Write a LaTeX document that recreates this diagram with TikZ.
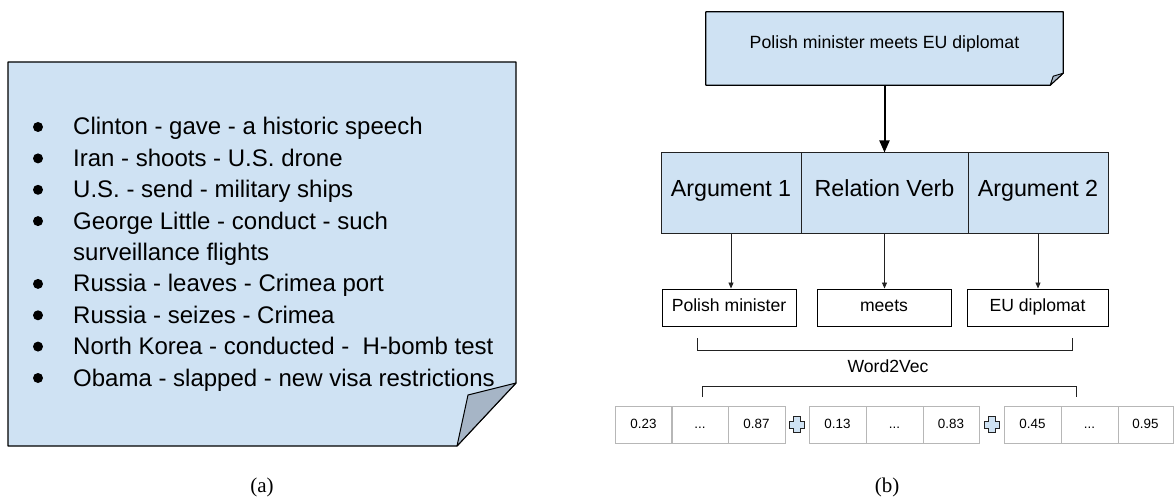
\documentclass[tikz,border=0pt]{standalone}
\usepackage{fontspec}
\setmainfont{Liberation Sans}
\newfontfamily\capfont{Liberation Serif}
\usetikzlibrary{arrows.meta}
\definecolor{paper}{HTML}{CFE2F3}
\definecolor{foldc}{HTML}{A6B5C6}
\definecolor{cellline}{HTML}{B7B7B7}
\definecolor{ink}{HTML}{222222}
\tikzset{
  item/.style={anchor=base west, inner sep=0pt, font=\fontsize{24}{28}\selectfont},
  dot/.style={circle, fill=black, inner sep=0pt, minimum size=10pt},
  argcell/.style={draw=ink, line width=1pt, fill=paper, minimum width=#1, minimum height=80pt,
    inner sep=0pt, text height=0.716em, text depth=0pt, font=\fontsize{23.3}{28}\selectfont},
  wordbox/.style={draw=black, line width=1pt, minimum width=#1, minimum height=37pt,
    inner sep=0pt, text height=0.716em, text depth=0pt, font=\fontsize{17.6}{21}\selectfont},
  vcell/.style={draw=cellline, line width=1pt, minimum width=#1, minimum height=37pt,
    inner sep=0pt, text height=0.716em, text depth=0pt, font=\fontsize{13.4}{16}\selectfont},
  thinarrow/.style={draw=ink, line width=0.9pt, -{Triangle[length=6pt,width=5pt]}},
  bracket/.style={draw=ink, line width=1pt},
  plus/.style={draw=ink, line width=1pt, fill=paper, line join=miter},
  caption/.style={anchor=base, inner sep=0pt, font=\capfont\fontsize{21}{25}\selectfont},
}
\begin{document}
\begin{tikzpicture}[x=1pt,y=-1pt]
\useasboundingbox (0,0) rectangle (1175,497);

% ---------------- (a) note with the list of triples ----------------
\draw[fill=paper, line width=1.2pt, line join=round]
  (8,62) -- (516,62) -- (516,383) -- (457,446) -- (8,446) -- cycle;
\draw[fill=foldc, line width=1pt, line join=round]
  (516,383) -- (468,395) -- (457,446) -- cycle;

\node[dot] (d1) at (38,127) {};
\node[item] (l1) at (73,135) {Clinton - gave - a historic speech};
\node[dot] (d2) at (38,158.4) {};
\node[item] (l2) at (73,166.4) {Iran - shoots - U.S. drone};
\node[dot] (d3) at (38,189.8) {};
\node[item] (l3) at (73,197.8) {U.S. - send - military ships};
\node[dot] (d4) at (38,221.1) {};
\node[item] (l4) at (73,229.1) {George Little - conduct - such};
\node[item] (l4b) at (73,260.5) {surveillance flights};
\node[dot] (d5) at (38,283.9) {};
\node[item] (l5) at (73,291.9) {Russia - leaves - Crimea port};
\node[dot] (d6) at (38,315.3) {};
\node[item] (l6) at (73,323.3) {Russia - seizes - Crimea};
\node[dot] (d7) at (38,346.6) {};
\node[item] (l7) at (73,354.6) {North Korea - conducted - \ H-bomb test};
\node[dot] (d8) at (38,378) {};
\node[item] (l8) at (73,386) {Obama - slapped - new visa restrictions};

\node[caption] (capa) at (262,492) {(a)};

% ---------------- (b) sentence, split into parts, embedded ----------------
\node[minimum width=357pt, minimum height=73pt, inner sep=0pt] (top) at (884.5,48.5) {};
\draw[fill=paper, line width=1.2pt, line join=round]
  (top.north west) -- (top.north east) -- ([yshift=12pt]top.south east)
  -- ([xshift=-13pt]top.south east) -- (top.south west) -- cycle;
\draw[fill=foldc, line width=0.9pt, line join=round]
  ([yshift=12pt]top.south east) -- ([xshift=-10pt,yshift=9pt]top.south east)
  -- ([xshift=-13pt]top.south east) -- cycle;
\node[anchor=base, inner sep=0pt, font=\fontsize{17.7}{21}\selectfont] (toptxt)
  at (884.5,49) {Polish minister meets EU diplomat};

\node[argcell=140pt] (arg1) at (731,193) {Argument 1};
\node[argcell=167pt] (rel)  at (884.5,193) {Relation Verb};
\node[argcell=140pt] (arg2) at (1038,193) {Argument 2};

\draw[line width=2pt, -{Triangle[length=12pt,width=10pt]}] (top.south) -- (top.south |- rel.north);

\node[wordbox=134pt] (w1) at (729,307.5) {Polish minister};
\node[wordbox=134pt] (w2) at (884,307.5) {meets};
\node[wordbox=141pt] (w3) at (1037.5,307.5) {EU diplomat};

\draw[thinarrow] (arg1.south) -- (arg1.south |- w1.north);
\draw[thinarrow] (rel.south) -- (rel.south |- w2.north);
\draw[thinarrow] (arg2.south) -- (arg2.south |- w3.north);

% brackets around the embedding step
\coordinate (ua) at (697,338);
\coordinate (ub) at (1072,350);
\draw[bracket] (ua) -- (ua |- ub) -- (ub) -- (ub |- ua);
\node[anchor=base, inner sep=0pt, font=\fontsize{17.6}{21}\selectfont] (w2v) at (888,372) {Word2Vec};
\coordinate (la) at (702,397);
\coordinate (lb) at (1076,386);
\draw[bracket] (la) -- (la |- lb) -- (lb) -- (lb |- la);

% concatenated vectors
\node[vcell=57pt] (v11) at (643.5,424.5) {0.23};
\node[vcell=57pt] (v12) at (700,424.5) {...};
\node[vcell=57pt] (v13) at (756.5,424.5) {0.87};
\node[vcell=57pt] (v21) at (837.5,424.5) {0.13};
\node[vcell=57pt] (v22) at (894.5,424.5) {...};
\node[vcell=56pt] (v23) at (951,424.5) {0.83};
\node[vcell=57pt] (v31) at (1032.5,424.5) {0.45};
\node[vcell=57pt] (v32) at (1089.5,424.5) {...};
\node[vcell=55pt] (v33) at (1145.5,424.5) {0.95};

\foreach \px/\nm in {797/p1, 992/p2}{
  \draw[plus] (\px-3.5,416.5) -- (\px+3.5,416.5) -- (\px+3.5,421) -- (\px+7.5,421)
    -- (\px+7.5,428) -- (\px+3.5,428) -- (\px+3.5,432.5) -- (\px-3.5,432.5)
    -- (\px-3.5,428) -- (\px-7.5,428) -- (\px-7.5,421) -- (\px-3.5,421) -- cycle;
}

\node[caption] (capb) at (887,492) {(b)};
\end{tikzpicture}
\end{document}
